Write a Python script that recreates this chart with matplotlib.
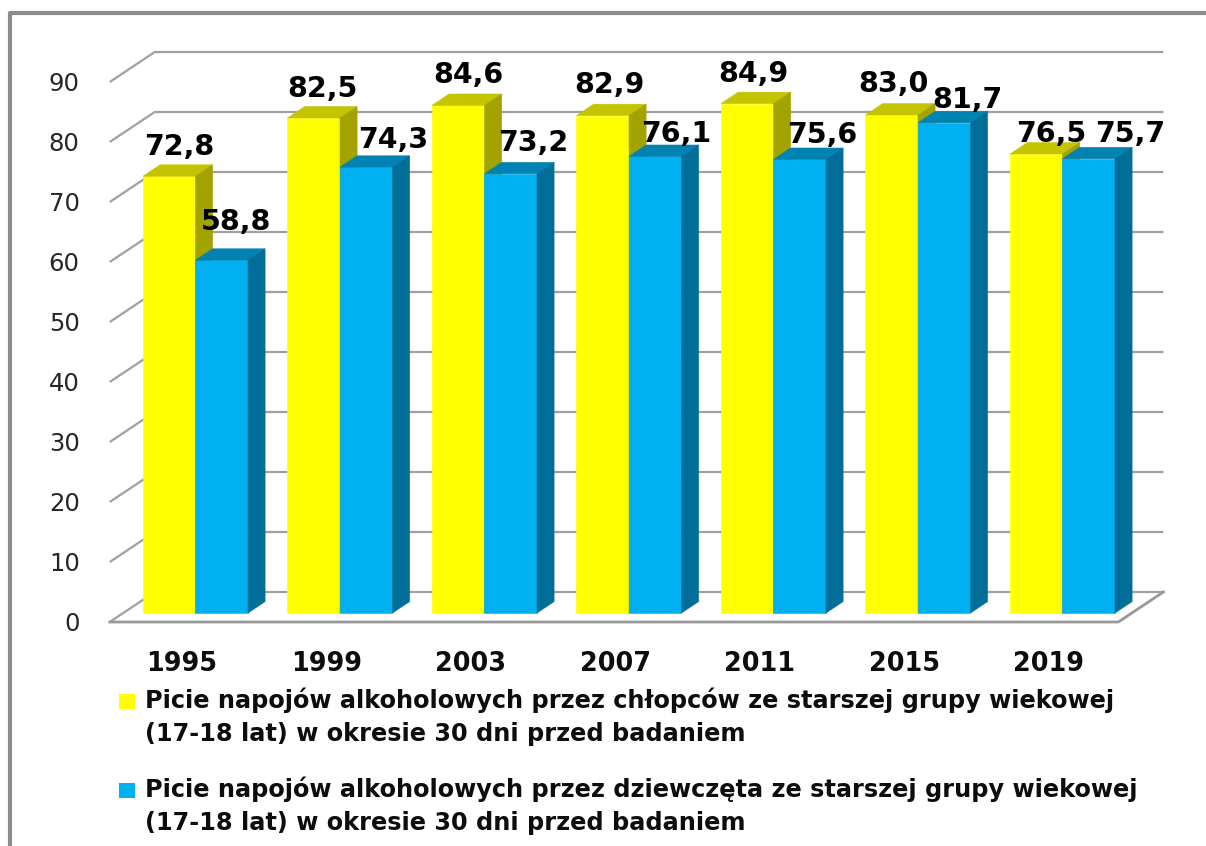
import matplotlib
matplotlib.use('Agg')
import matplotlib.pyplot as plt
from matplotlib.patches import Polygon, Rectangle
from matplotlib.lines import Line2D

years = ['1995', '1999', '2003', '2007', '2011', '2015', '2019']
boys = [72.8, 82.5, 84.6, 82.9, 84.9, 83.0, 76.5]
girls = [58.8, 74.3, 73.2, 76.1, 75.6, 81.7, 75.7]
yticks = list(range(0, 100, 10))

boys_label = ['Picie napojów alkoholowych przez chłopców ze starszej grupy wiekowej',
              '(17-18 lat) w okresie 30 dni przed badaniem']
girls_label = ['Picie napojów alkoholowych przez dziewczęta ze starszej grupy wiekowej',
               '(17-18 lat) w okresie 30 dni przed badaniem']

# small shifts (pixels) for value labels, the way they sit in the sheet
boys_nudge = [(1, 0), (0, 0), (2, 1), (-2, 1), (-2, 0), (-7, 2), (6, -9)]
girls_nudge = [(6, 9), (18, -2), (14, 1), (12, -7), (14, -5), (15, -7), (33, -5)]

W, H = 1206, 846
PX_X, PX_Y = 144.5, 6.0      # pixels per category / per percent
X0, Y0 = 182, 622            # first category / zero on the front plane
DEPTH_X, DEPTH_Y = 45, 30    # full depth of the box in pixels
D0, D1 = 0.30, 0.68          # bar depth range (fraction of box depth)
BAR_W = 52.5 / PX_X

YELLOW = ('#FFFF00', '#C4C400', '#A3A300')
BLUE = ('#00B0F0', '#0083B3', '#006E98')
GRID = '#A0A0A0'


def ux(px):
    return px / PX_X


def uy(px):
    return px / PX_Y


fig = plt.figure(figsize=(W / 100, H / 100), dpi=100)
ax = fig.add_axes([0, 0, 1, 1])
ax.set_xlim(-X0 / PX_X, (W - X0) / PX_X)
ax.set_ylim((Y0 - H) / PX_Y, Y0 / PX_Y)
ax.axis('off')

ddx, ddy = ux(DEPTH_X), uy(DEPTH_Y)
xl, xr = -0.5, len(years) - 0.52

# back wall gridlines and the slanted lines on the left
for v in yticks:
    ax.plot([xl, xl + ddx, xr + ddx], [v, v + ddy, v + ddy], color=GRID, lw=1.6,
            solid_capstyle='butt', zorder=1)
    ax.text(xl - ux(30), v - uy(9), str(v), ha='right', va='baseline',
            fontsize=17.5, color='#262626', family='DejaVu Sans')

# floor edge
ax.plot([xl, xr, xr + ddx], [0, 0, ddy], color='#999999', lw=2, zorder=1)


def bar3d(x_left, h, colors, nudge):
    front, top, side = colors
    x0 = x_left + D0 * ddx
    y0 = D0 * ddy
    bx = (D1 - D0) * ddx
    by = (D1 - D0) * ddy
    kw = dict(lw=0.4, zorder=2, joinstyle='miter')
    ax.add_patch(Polygon([(x0, y0), (x0 + BAR_W, y0), (x0 + BAR_W, y0 + h), (x0, y0 + h)],
                         fc=front, ec=front, **kw))
    ax.add_patch(Polygon([(x0, y0 + h), (x0 + BAR_W, y0 + h),
                          (x0 + BAR_W + bx, y0 + h + by), (x0 + bx, y0 + h + by)],
                         fc=top, ec=top, **kw))
    ax.add_patch(Polygon([(x0 + BAR_W, y0), (x0 + BAR_W + bx, y0 + by),
                          (x0 + BAR_W + bx, y0 + h + by), (x0 + BAR_W, y0 + h)],
                         fc=side, ec=side, **kw))
    lx = x0 + BAR_W / 2 + bx / 2 + ux(nudge[0])
    ly = y0 + h + by + uy(10 + nudge[1])
    ax.text(lx, ly, f'{h:.1f}'.replace('.', ','), ha='center', va='baseline',
            fontsize=20.5, fontweight='bold', color='black', zorder=5,
            family='DejaVu Sans')


for i, year in enumerate(years):
    bar3d(i - BAR_W, boys[i], YELLOW, boys_nudge[i])
    bar3d(i, girls[i], BLUE, girls_nudge[i])
    ax.text(i, uy(Y0 - 671), year, ha='center', va='baseline', fontsize=18.4,
            fontweight='bold', color='#0D0D0D', family='DejaVu Sans')


# legend under the chart
def fx(px):
    return px / W


def fy(py):
    return 1 - py / H


for label, color, base in [(boys_label, YELLOW[0], 708), (girls_label, BLUE[0], 797)]:
    fig.add_artist(Rectangle((fx(119), fy(base + 1)), 16 / W, 15 / H, fc=color, ec='none',
                             transform=fig.transFigure))
    for k, line in enumerate(label):
        fig.text(fx(145), fy(base + 33 * k), line, ha='left', va='baseline',
                 fontsize=17.3, fontweight='bold', color='#0D0D0D', family='DejaVu Sans')

# chart frame
fig.add_artist(Line2D([fx(9.5), fx(9.5), 1.05], [-0.05, fy(13), fy(13)],
                      color='#8C8C8C', lw=3, transform=fig.transFigure))

fig.savefig('out.png', dpi=100)
